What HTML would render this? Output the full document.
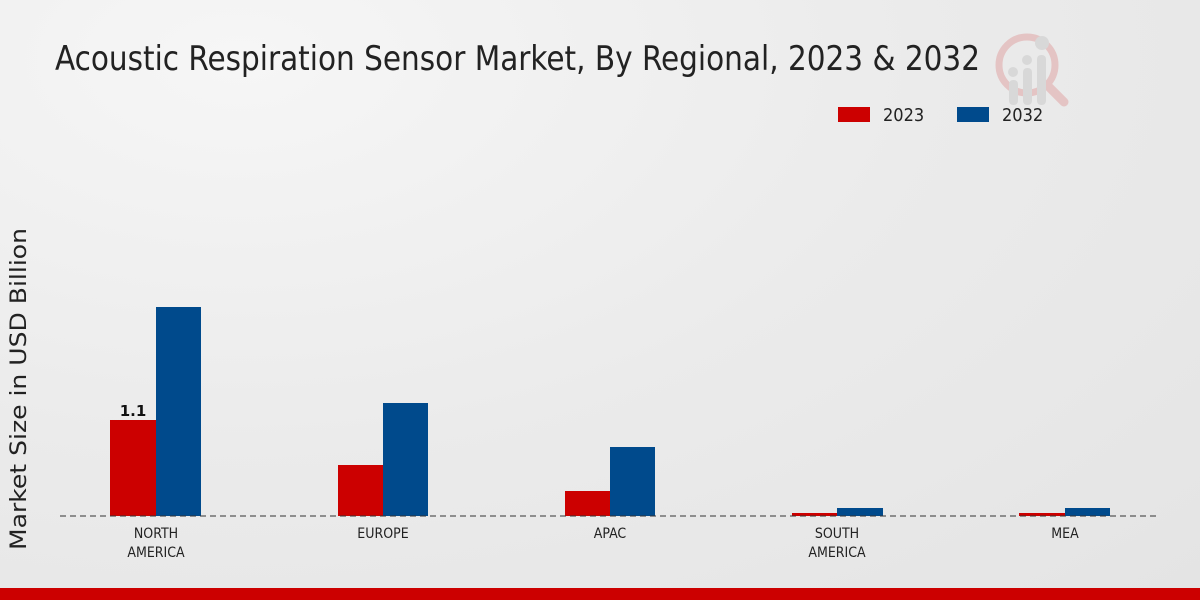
<!DOCTYPE html>
<html><head><meta charset="utf-8"><style>
html,body{margin:0;padding:0;width:1200px;height:600px;overflow:hidden}
body{background:radial-gradient(ellipse at 20% 10%,#f6f6f6 0%,#ebebeb 50%,#e4e4e4 100%)}
</style></head><body>
<svg width="1200" height="600" xmlns="http://www.w3.org/2000/svg" style="position:absolute;left:0;top:0">
<text x="55" y="70" font-family="DejaVu Sans Condensed, DejaVu Sans, sans-serif" font-size="34" fill="#222" textLength="925" lengthAdjust="spacingAndGlyphs">Acoustic Respiration Sensor Market, By Regional, 2023 &amp; 2032</text>
<g opacity="0.5">
<circle cx="1027" cy="65" r="28" fill="none" stroke="#e0a0a0" stroke-width="7"/>
<line x1="1048" y1="86" x2="1064" y2="102" stroke="#e0a0a0" stroke-width="9" stroke-linecap="round"/>
<rect x="1009" y="80" width="9" height="25" rx="4" fill="#c8c8c8"/>
<rect x="1023" y="68" width="9" height="37" rx="4" fill="#c8c8c8"/>
<rect x="1037" y="55" width="9" height="50" rx="4" fill="#c8c8c8"/>
<circle cx="1013" cy="72" r="5" fill="#c8c8c8"/><circle cx="1027" cy="60" r="5" fill="#c8c8c8"/><circle cx="1042" cy="43" r="7" fill="#c8c8c8"/>
</g>
<rect x="838" y="107" width="32" height="15" fill="#cc0000"/>
<text x="883" y="121" font-family="DejaVu Sans Condensed, DejaVu Sans, sans-serif" font-size="18" fill="#222">2023</text>
<rect x="957" y="107" width="32" height="15" fill="#004a8c"/>
<text x="1002" y="121" font-family="DejaVu Sans Condensed, DejaVu Sans, sans-serif" font-size="18" fill="#222">2032</text>
<text transform="translate(26,389) rotate(-90)" text-anchor="middle" font-family="DejaVu Sans, sans-serif" font-size="22" fill="#222" textLength="322" lengthAdjust="spacingAndGlyphs">Market Size in USD Billion</text>
<g fill="#cc0000">
<rect x="110" y="420" width="46" height="96"/><rect x="338" y="465" width="45" height="51"/><rect x="565" y="491" width="45" height="25"/><rect x="792" y="513" width="45" height="3"/><rect x="1019" y="513" width="46" height="3"/>
</g>
<g fill="#004a8c">
<rect x="156" y="307" width="45" height="209"/><rect x="383" y="403" width="45" height="113"/><rect x="610" y="447" width="45" height="69"/><rect x="837" y="508" width="46" height="8"/><rect x="1065" y="508" width="45" height="8"/>
</g>
<line x1="60" y1="516" x2="1160" y2="516" stroke="#333" stroke-width="1" stroke-dasharray="6,4"/>
<text x="133" y="416" text-anchor="middle" font-family="DejaVu Sans, sans-serif" font-size="15" font-weight="bold" fill="#111">1.1</text>
<g font-family="DejaVu Sans Condensed, DejaVu Sans, sans-serif" font-size="14" fill="#222" text-anchor="middle">
<text x="156" y="538">NORTH</text><text x="156" y="557">AMERICA</text>
<text x="383" y="538">EUROPE</text>
<text x="610" y="538">APAC</text>
<text x="837" y="538">SOUTH</text><text x="837" y="557">AMERICA</text>
<text x="1065" y="538">MEA</text>
</g>
<rect x="0" y="588" width="1200" height="12" fill="#cc0000"/>
</svg>
</body></html>
